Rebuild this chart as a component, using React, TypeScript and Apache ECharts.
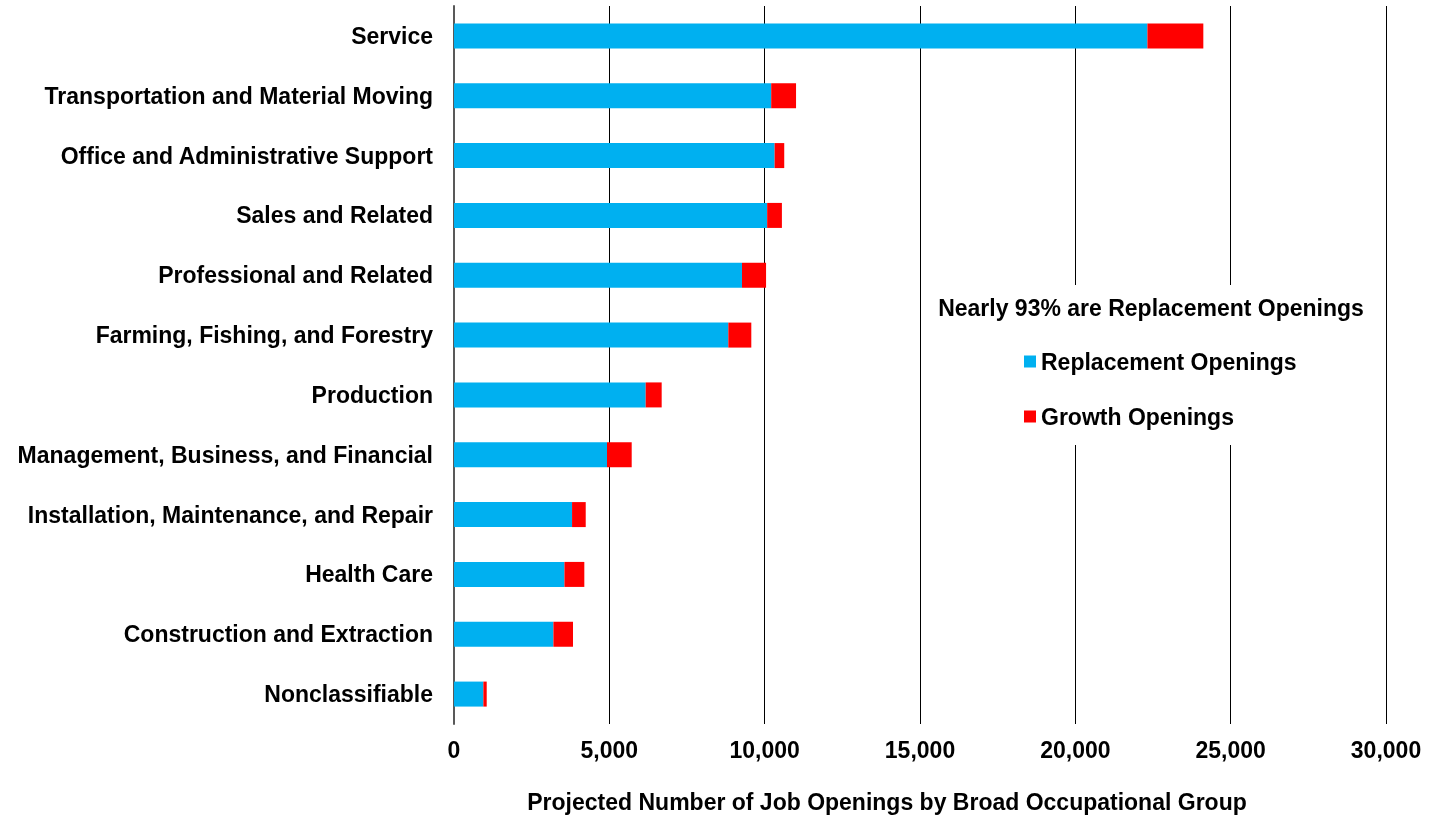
import React, { useEffect, useRef } from "react";
import * as echarts from "echarts";

const categories = [
  "Service",
  "Transportation and Material Moving",
  "Office and Administrative Support",
  "Sales and Related",
  "Professional and Related",
  "Farming, Fishing, and Forestry",
  "Production",
  "Management, Business, and Financial",
  "Installation, Maintenance, and Repair",
  "Health Care",
  "Construction and Extraction",
  "Nonclassifiable",
];
const replacementOpenings = [22320, 10210, 10320, 10080, 9270, 8830, 6170, 4925, 3800, 3555, 3200, 945];
const growthOpenings = [1800, 800, 310, 475, 775, 740, 515, 795, 440, 640, 630, 108];
const xTicks = [0, 5000, 10000, 15000, 20000, 25000, 30000];
const legendTitle = "Nearly 93% are Replacement Openings";
const xAxisTitle = "Projected Number of Job Openings by Broad Occupational Group";

const FONT = "'Liberation Sans', Arial, sans-serif";

export default function App() {
  const ref = useRef<HTMLDivElement>(null);
  useEffect(() => {
    if (!ref.current) return;
    const chart = echarts.init(ref.current, undefined, { renderer: "svg" });
    chart.setOption({
      animation: false,
      textStyle: { fontFamily: FONT },
      grid: { left: 454, right: 46, top: 6, bottom: 95, containLabel: false },
      xAxis: {
        type: "value",
        min: xTicks[0],
        max: xTicks[xTicks.length - 1],
        interval: 5000,
        axisLine: { show: false },
        axisTick: { show: false },
        splitLine: { show: true, lineStyle: { color: "#000", width: 1 } },
        axisLabel: {
          margin: 14,
          fontSize: 23,
          fontWeight: "bold",
          color: "#000",
          fontFamily: FONT,
          formatter: (v: number) => v.toLocaleString("en-US"),
        },
        name: xAxisTitle,
        nameLocation: "middle",
        nameGap: 66,
        nameTextStyle: {
          fontSize: 23,
          fontWeight: "bold",
          color: "#000",
          fontFamily: FONT,
          padding: [0, 66, 0, 0],
        },
      },
      yAxis: {
        type: "category",
        data: categories,
        inverse: true,
        axisLine: { show: true, lineStyle: { color: "#595959", width: 2 } },
        axisTick: { show: false },
        axisLabel: {
          margin: 21,
          fontSize: 23,
          fontWeight: "bold",
          color: "#000",
          fontFamily: FONT,
        },
      },
      legend: {
        orient: "vertical",
        left: 921,
        top: 285,
        padding: [65, 85, 17, 103],
        backgroundColor: "#fff",
        itemWidth: 12,
        itemHeight: 12,
        itemGap: 32,
        icon: "rect",
        textStyle: {
          fontSize: 23,
          fontWeight: "bold",
          color: "#000",
          fontFamily: FONT,
          lineHeight: 23,
        },
        data: ["Replacement Openings", "Growth Openings"],
      },
      graphic: [
        {
          type: "text",
          z: 100,
          x: 1151,
          y: 308,
          style: {
            text: legendTitle,
            fill: "#000",
            font: `bold 23px ${FONT}`,
            textAlign: "center",
            textVerticalAlign: "middle",
          },
        },
      ],
      series: [
        {
          name: "Replacement Openings",
          type: "bar",
          stack: "total",
          barWidth: 25,
          itemStyle: { color: "#00B0F0" },
          data: replacementOpenings,
        },
        {
          name: "Growth Openings",
          type: "bar",
          stack: "total",
          barWidth: 25,
          itemStyle: { color: "#FF0000" },
          data: growthOpenings,
        },
      ],
    });
    return () => chart.dispose();
  }, []);
  return (
    <div
      ref={ref}
      style={{ position: "fixed", left: 0, top: 0, width: 1432, height: 819 }}
    />
  );
}
